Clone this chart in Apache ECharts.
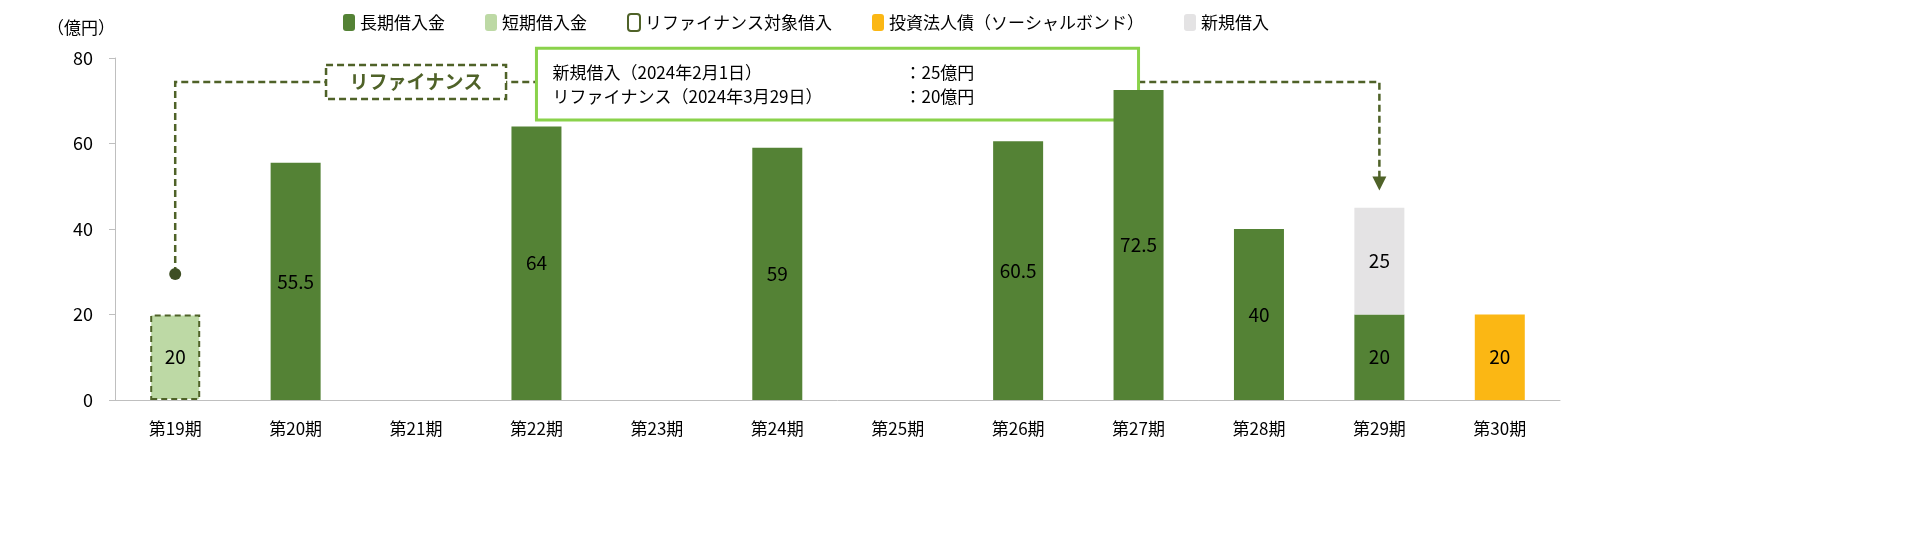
<!DOCTYPE html><html><head><meta charset="utf-8">
<script src="https://cdn.jsdelivr.net/npm/echarts@6/dist/echarts.min.js"></script>
<style>html,body{margin:0;background:#fff}#c{width:1908px;height:544px}</style></head><body><div id="c"></div>
<script>
const categories=['第19期','第20期','第21期','第22期','第23期','第24期','第25期','第26期','第27期','第28期','第29期','第30期'];
const longTerm=[null,55.5,null,64,null,59,null,60.5,72.5,40,20,null];
const shortTerm=[20,null,null,null,null,null,null,null,null,null,null,null];
const bond=[null,null,null,null,null,null,null,null,null,null,null,20];
const newLoan=[null,null,null,null,null,null,null,null,null,null,25,null];
const yTicks=[0,20,40,60,80];
(function(){
const F='"Noto Sans CJK JP","Noto Sans",sans-serif';
const DK='#4f6228';
const chart=echarts.init(document.getElementById('c'));
const lbl={show:true,position:'inside',fontSize:19,color:'#000',fontFamily:F};
chart.setOption({
 animation:false,
 textStyle:{fontFamily:F},
 grid:{left:115,right:348,top:58,bottom:144},
 legend:{top:8,left:338,itemWidth:12,itemHeight:17,itemGap:40,textStyle:{fontSize:17,color:'#000',fontFamily:F},
  data:[{name:'長期借入金'},{name:'短期借入金',itemStyle:{borderWidth:0}},{name:'リファイナンス対象借入'},{name:'投資法人債（ソーシャルボンド）'},{name:'新規借入'}]},
 xAxis:{type:'category',data:categories,axisTick:{show:false},axisLine:{lineStyle:{color:'#bfbfbf'}},axisLabel:{fontSize:17,color:'#000',margin:20}},
 yAxis:{type:'value',min:yTicks[0],max:yTicks[yTicks.length-1],interval:20,name:'（億円）',nameGap:22,nameTextStyle:{fontSize:17,color:'#000',align:'right'},
  splitLine:{show:false},axisLine:{show:true,lineStyle:{color:'#bfbfbf'}},axisTick:{show:true,length:6,lineStyle:{color:'#bfbfbf'}},axisLabel:{fontSize:18,color:'#000',margin:22}},
 series:[
  {name:'長期借入金',type:'bar',stack:'a',barWidth:50,data:longTerm,itemStyle:{color:'#548235'},label:lbl},
  {name:'短期借入金',type:'bar',stack:'a',barWidth:50,data:shortTerm,itemStyle:{color:'#bdd9a5',borderColor:DK,borderWidth:2,borderType:[6,4]},label:lbl},
  {name:'リファイナンス対象借入',type:'bar',stack:'a',data:[],itemStyle:{color:'#fff',borderColor:DK,borderWidth:2,borderType:[4,3]}},
  {name:'投資法人債（ソーシャルボンド）',type:'bar',stack:'a',barWidth:50,data:bond,itemStyle:{color:'#fbb714'},label:lbl},
  {name:'新規借入',type:'bar',stack:'a',barWidth:50,data:newLoan,itemStyle:{color:'#e4e3e4'},label:lbl}
 ]
});
const P=(i,v)=>chart.convertToPixel({xAxisIndex:0,yAxisIndex:0},[i,v]);
const d=P(0,29.5), topY=P(0,74.4)[1], a=P(10,49), bx=P(2,0)[0];
const b1=P(3.39,82.3), b2=P(7.6,65.5);
chart.setOption({graphic:[
 {type:'polyline',shape:{points:[d,[d[0],topY],[a[0],topY],[a[0],a[1]-12]]},style:{stroke:DK,lineWidth:2.5,lineDash:[7,4],fill:null}},
 {type:'circle',shape:{cx:d[0],cy:d[1],r:6},style:{fill:'#3e4f24'}},
 {type:'polygon',shape:{points:[[a[0]-7,a[1]-14],[a[0]+7,a[1]-14],[a[0],a[1]]]},style:{fill:DK}},
 {type:'rect',shape:{x:bx-90,y:topY-17,width:180,height:34},style:{fill:'#fff',stroke:DK,lineWidth:2.5,lineDash:[7,4]}},
 {type:'text',x:bx,y:topY,style:{text:'リファイナンス',fontSize:19,fontWeight:'bold',fill:'#4f6228',align:'center',verticalAlign:'middle',fontFamily:F}},
 {type:'rect',shape:{x:b1[0],y:b1[1],width:b2[0]-b1[0],height:b2[1]-b1[1]},style:{fill:'#fff',stroke:'#8ad24b',lineWidth:3}},
 {type:'text',x:b1[0]+16,y:b1[1]+24,style:{text:'新規借入（2024年2月1日）',fontSize:17,fill:'#000',verticalAlign:'middle',fontFamily:F}},
 {type:'text',x:b1[0]+16,y:b1[1]+48,style:{text:'リファイナンス（2024年3月29日）',fontSize:17,fill:'#000',verticalAlign:'middle',fontFamily:F}},
 {type:'text',x:b1[0]+368,y:b1[1]+24,style:{text:'：25億円',fontSize:17,fill:'#000',verticalAlign:'middle',fontFamily:F}},
 {type:'text',x:b1[0]+368,y:b1[1]+48,style:{text:'：20億円',fontSize:17,fill:'#000',verticalAlign:'middle',fontFamily:F}}
]});
})();
</script></body></html>
